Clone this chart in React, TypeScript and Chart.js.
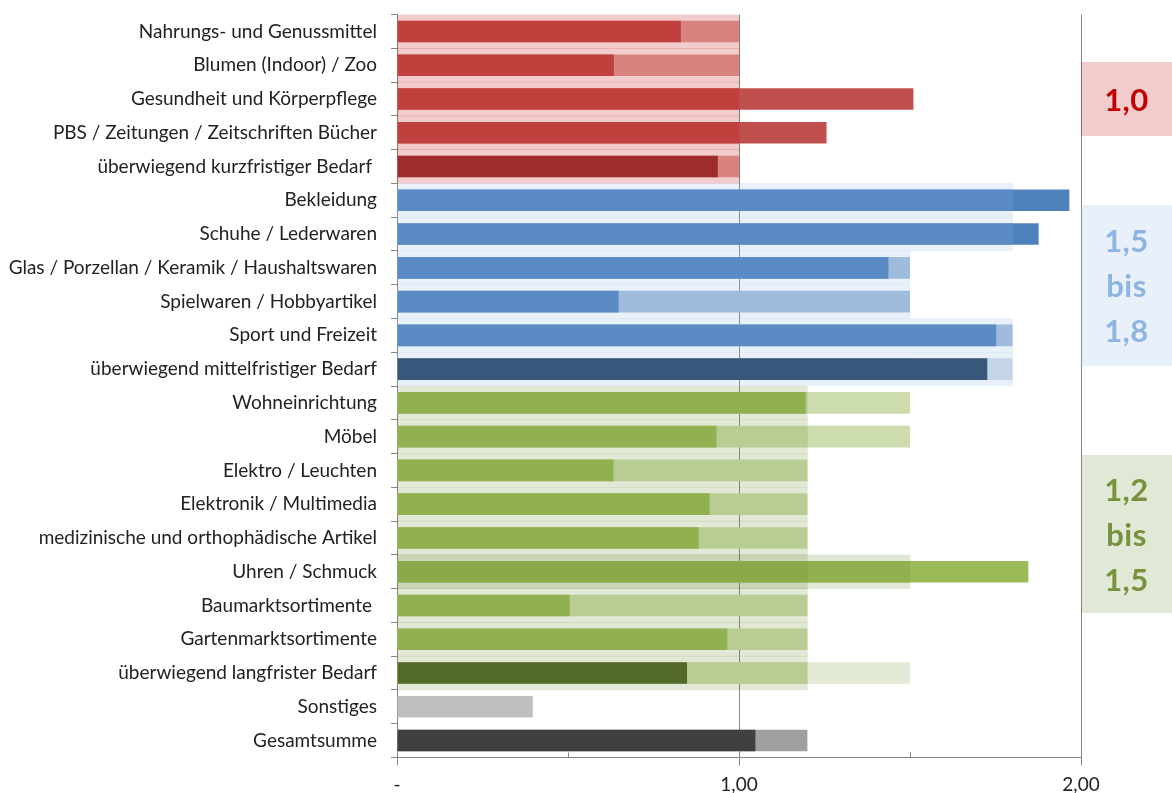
import React, { useEffect, useRef } from 'react';
import { Chart, registerables } from 'chart.js';

Chart.register(...registerables);

// Sortimente (Kategorien der y-Achse)
const categories = [
  'Nahrungs- und Genussmittel',
  'Blumen (Indoor) / Zoo',
  'Gesundheit und Körperpflege',
  'PBS / Zeitungen / Zeitschriften Bücher',
  'überwiegend kurzfristiger Bedarf ',
  'Bekleidung',
  'Schuhe / Lederwaren',
  'Glas / Porzellan / Keramik / Haushaltswaren',
  'Spielwaren / Hobbyartikel',
  'Sport und Freizeit',
  'überwiegend mittelfristiger Bedarf',
  'Wohneinrichtung',
  'Möbel',
  'Elektro / Leuchten',
  'Elektronik / Multimedia',
  'medizinische und orthophädische Artikel',
  'Uhren / Schmuck',
  'Baumarktsortimente ',
  'Gartenmarktsortimente',
  'überwiegend langfrister Bedarf',
  'Sonstiges',
  'Gesamtsumme',
];

// Ist-Werte (Zentralität)
const actualValues = [
  0.83, 0.634, 1.51, 1.256, 0.938,
  1.966, 1.876, 1.437, 0.648, 1.752, 1.726,
  1.195, 0.934, 0.633, 0.914, 0.882, 1.846, 0.505, 0.966, 0.848,
  0.397, 1.048,
];

// Zielwert je Sortiment
const targetValues = [
  1.0, 1.0, 1.0, 1.0, 1.0,
  1.8, 1.8, 1.5, 1.5, 1.8, 1.5,
  1.5, 1.5, 1.2, 1.2, 1.2, 1.5, 1.2, 1.2, 1.2,
  null, 1.2,
];

// Obergrenze der Zielspanne (nur Summenzeilen)
const upperRangeValues = [
  null, null, null, null, null,
  null, null, null, null, null, 1.8,
  null, null, null, null, null, null, null, null, 1.5,
  null, null,
];

// Hinterlegte Zielzone je Zeile
const zoneValues = [
  1.0, 1.0, 1.0, 1.0, 1.0,
  1.8, 1.8, 1.5, 1.5, 1.8, 1.8,
  1.2, 1.2, 1.2, 1.2, 1.2, 1.5, 1.2, 1.2, 1.2,
  null, null,
];

// Zusätzliche Zone (Uhren / Schmuck)
const zoneExtraValues = [
  null, null, null, null, null,
  null, null, null, null, null, null,
  null, null, null, null, null, 1.2, null, null, null,
  null, null,
];

// Achsenbeschriftung x
const xTickValues = [0, 1, 2];
const xTickLabels = ['-', '1,00', '2,00'];
const xMinorTickValues = [0.5, 1.5];

// Zielspannen rechts
const zoneNotes = [
  { lines: ['1,0'], top: 62, height: 74, bg: 'rgba(192,0,0,0.2)', color: '#c00000' },
  { lines: ['1,5', 'bis', '1,8'], top: 205, height: 161, bg: 'rgba(141,180,226,0.2)', color: '#8db4e2' },
  { lines: ['1,2', 'bis', '1,5'], top: 455, height: 158, bg: 'rgba(105,140,50,0.2)', color: '#76923c' },
];

const RED = '#c0504d';
const RED_DARK = '#953735';
const RED_LIGHT = '#dfa4a0';
const BLUE = '#4f81bd';
const BLUE_DARK = '#254061';
const BLUE_LIGHT = '#a6bfdd';
const BLUE_PALE = '#d3ddec';
const GREEN = '#9bbb59';
const GREEN_DARK = '#4f6228';
const GREEN_LIGHT = '#cddcac';
const GREEN_PALE = '#e3ead6';
const ZONE_RED = 'rgba(192,0,0,0.2)';
const ZONE_BLUE = 'rgba(141,180,226,0.2)';
const ZONE_GREEN = 'rgba(105,140,50,0.2)';

const groupOf = (i: number) => (i < 5 ? 'red' : i < 11 ? 'blue' : i < 20 ? 'green' : 'gray');

const actualColors = categories.map((_, i) => {
  if (i === 4) return RED_DARK;
  if (i === 10) return BLUE_DARK;
  if (i === 19) return GREEN_DARK;
  if (i === 20) return '#bfbfbf';
  if (i === 21) return '#404040';
  const g = groupOf(i);
  return g === 'red' ? RED : g === 'blue' ? BLUE : GREEN;
});

const targetColors = categories.map((_, i) => {
  if (i === 21) return '#a0a0a0';
  const g = groupOf(i);
  return g === 'red' ? RED_LIGHT : g === 'blue' ? BLUE_LIGHT : g === 'green' ? GREEN_LIGHT : '#d9d9d9';
});

const upperColors = categories.map((_, i) => (groupOf(i) === 'blue' ? BLUE_PALE : GREEN_PALE));

const zoneColors = categories.map((_, i) => {
  const g = groupOf(i);
  return g === 'red' ? ZONE_RED : g === 'blue' ? ZONE_BLUE : ZONE_GREEN;
});

const AXIS_GRAY = '#868686';
const LABEL_FONT = { family: 'Lato, "Liberation Sans", sans-serif', size: 19 };

const minorTicks = {
  id: 'minorTicks',
  afterDatasetsDraw(chart: any) {
    const x = chart.scales.x;
    const ctx = chart.ctx;
    const bottom = chart.chartArea.bottom;
    ctx.save();
    ctx.strokeStyle = AXIS_GRAY;
    ctx.lineWidth = 1;
    xMinorTickValues.forEach((v) => {
      const px = Math.round(x.getPixelForValue(v)) + 0.5;
      ctx.beginPath();
      ctx.moveTo(px, bottom);
      ctx.lineTo(px, bottom - 5);
      ctx.stroke();
    });
    ctx.restore();
  },
};

export default function App() {
  const canvasRef = useRef<HTMLCanvasElement | null>(null);

  useEffect(() => {
    if (!canvasRef.current) return;
    const common = { grouped: false, categoryPercentage: 1, borderWidth: 0 };
    const chart = new Chart(canvasRef.current, {
      type: 'bar',
      data: {
        labels: categories,
        datasets: [
          { ...common, label: 'Zone', data: zoneValues, backgroundColor: zoneColors, barPercentage: 1.0, order: 0 },
          { ...common, label: 'Zone 2', data: zoneExtraValues, backgroundColor: ZONE_GREEN, barPercentage: 1.0, order: 0 },
          { ...common, label: 'Ist', data: actualValues, backgroundColor: actualColors, barPercentage: 0.64, order: 1 },
          { ...common, label: 'Ziel', data: targetValues, backgroundColor: targetColors, barPercentage: 0.64, order: 2 },
          { ...common, label: 'Obergrenze', data: upperRangeValues, backgroundColor: upperColors, barPercentage: 0.64, order: 3 },
        ] as any,
      },
      options: {
        indexAxis: 'y',
        animation: false,
        responsive: true,
        maintainAspectRatio: false,
        layout: { padding: { top: 14.6, right: 91, left: 0, bottom: 0 } },
        plugins: {
          legend: { display: false },
          tooltip: { enabled: false },
        },
        scales: {
          x: {
            type: 'linear',
            min: 0,
            max: 2,
            afterFit: (s: any) => {
              s.height = 35.6;
              s.paddingLeft = 0;
              s.paddingRight = 0;
            },
            afterBuildTicks: (s: any) => {
              s.ticks = [0, 0.5, 1, 1.5, 2].map((v) => ({ value: v }));
            },
            ticks: {
              autoSkip: false,
              maxRotation: 0,
              padding: 8,
              color: '#222222',
              font: LABEL_FONT,
              callback: (v: any) => {
                const idx = xTickValues.indexOf(Number(v));
                return idx >= 0 ? xTickLabels[idx] : '';
              },
            },
            grid: {
              color: (c: any) => (c.tick && xTickValues.includes(c.tick.value) ? AXIS_GRAY : 'rgba(0,0,0,0)'),
              tickColor: (c: any) => (c.tick && xTickValues.includes(c.tick.value) ? AXIS_GRAY : 'rgba(0,0,0,0)'),
              tickLength: 8,
              lineWidth: 1,
            },
            border: { color: AXIS_GRAY, width: 1 },
          },
          y: {
            type: 'category',
            afterFit: (s: any) => {
              s.width = 397;
              s.paddingTop = 0;
              s.paddingBottom = 0;
            },
            ticks: {
              autoSkip: false,
              padding: 14,
              color: '#222222',
              font: LABEL_FONT,
            },
            grid: {
              drawOnChartArea: false,
              offset: true,
              tickLength: 6,
              color: AXIS_GRAY,
              tickColor: AXIS_GRAY,
            },
            border: { color: AXIS_GRAY, width: 1 },
          },
        },
      } as any,
      plugins: [minorTicks],
    });
    return () => chart.destroy();
  }, []);

  return (
    <div style={{ position: 'absolute', left: 0, top: 0, width: 1172, height: 793, background: '#ffffff' }}>
      <canvas ref={canvasRef} />
      {zoneNotes.map((n, i) => (
        <div
          key={i}
          style={{
            position: 'absolute',
            left: 1081,
            top: n.top,
            width: 91,
            height: n.height,
            background: n.bg,
            display: 'flex',
            flexDirection: 'column',
            justifyContent: 'center',
            alignItems: 'center',
            fontFamily: 'Lato, "Liberation Sans", sans-serif',
            fontWeight: 700,
            fontSize: 31,
            letterSpacing: '0.5px',
            lineHeight: '45px',
            color: n.color,
          }}
        >
          {n.lines.map((t, j) => (
            <div key={j}>{t}</div>
          ))}
        </div>
      ))}
    </div>
  );
}
